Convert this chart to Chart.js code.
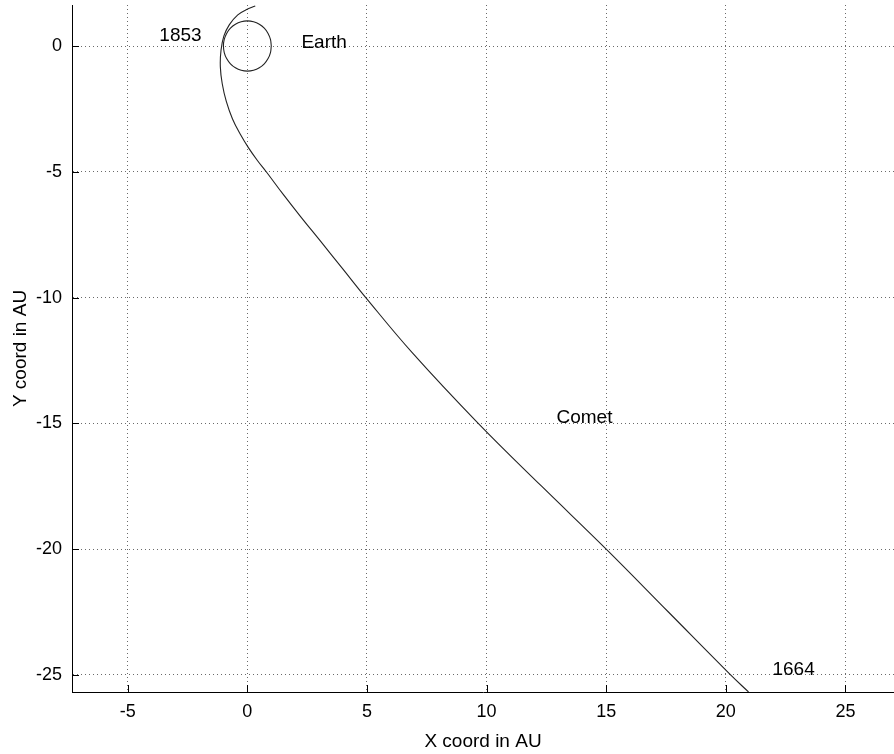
<!DOCTYPE html>
<html>
<head>
<meta charset="utf-8">
<title>Comet orbit</title>
<script src="https://cdn.jsdelivr.net/npm/chart.js@4.4.0/dist/chart.umd.min.js"></script>
<style>
  html, body { margin: 0; padding: 0; background: #fff; }
  canvas { display: block; }
</style>
</head>
<body>
<canvas id="orbit-chart" width="894" height="754"></canvas>
<script>
// ─── Data (AU) ─────────────────────────────────────────────
const cometX = [0.33, -0.05, -0.40, -0.75, -0.98, -1.10, -1.13, -1.05, -0.88, -0.62, -0.30, 0.05, 0.42, 0.79, 1.50, 2.20, 3.05, 3.98, 4.95, 6.90, 9.65, 12.3, 15.0, 17.6, 20.2, 20.95];
const cometY = [1.59, 1.44, 1.24, 0.85, 0.40, -0.16, -0.82, -1.50, -2.20, -2.90, -3.50, -4.05, -4.55, -5.00, -5.90, -6.75, -7.75, -8.85, -10.0, -12.2, -15.0, -17.5, -20.0, -22.5, -25.0, -25.68];

const earthX = [1, 0.966, 0.866, 0.707, 0.5, 0.259, 0, -0.259, -0.5, -0.707, -0.866, -0.966, -1, -0.966, -0.866, -0.707, -0.5, -0.259, 0, 0.259, 0.5, 0.707, 0.866, 0.966, 1];
const earthY = [0, 0.259, 0.5, 0.707, 0.866, 0.966, 1, 0.966, 0.866, 0.707, 0.5, 0.259, 0, -0.259, -0.5, -0.707, -0.866, -0.966, -1, -0.966, -0.866, -0.707, -0.5, -0.259, 0];

const xTicks = [-5, 0, 5, 10, 15, 20, 25];
const yTicks = [-25, -20, -15, -10, -5, 0];
const xRange = [-7.33, 27.03];
const yRange = [-25.68, 1.63];

// text labels: text, left x, baseline y
const labelText = ['1853', 'Earth', 'Comet', '1664'];
const labelX = [-3.68, 2.26, 12.92, 21.95];
const labelY = [0.2, -0.08, -15.0, -25.0];

const FONT = '"Liberation Sans", Arial, Helvetica, sans-serif';

function toPoints(xs, ys) {
    return xs.map((x, i) => ({ x: x, y: ys[i] }));
}

// inward tick marks, like the original plot
const innerTicks = {
    id: 'innerTicks',
    afterDraw(chart) {
        const { ctx, chartArea } = chart;
        const xs = chart.scales.x, ys = chart.scales.y;
        ctx.save();
        ctx.strokeStyle = '#000';
        ctx.lineWidth = 1;
        ctx.setLineDash([]);
        ctx.beginPath();
        xTicks.forEach(v => {
            const px = Math.round(xs.getPixelForValue(v)) + 0.5;
            ctx.moveTo(px, chartArea.bottom);
            ctx.lineTo(px, chartArea.bottom - 7);
        });
        yTicks.forEach(v => {
            const py = Math.round(ys.getPixelForValue(v)) + 0.5;
            ctx.moveTo(chartArea.left, py);
            ctx.lineTo(chartArea.left + 7, py);
        });
        ctx.stroke();
        ctx.restore();
    }
};

const textLabels = {
    id: 'textLabels',
    afterDatasetsDraw(chart) {
        const { ctx } = chart;
        const xs = chart.scales.x, ys = chart.scales.y;
        ctx.save();
        ctx.fillStyle = '#000';
        ctx.font = '19px ' + FONT;
        ctx.textAlign = 'left';
        ctx.textBaseline = 'alphabetic';
        labelText.forEach((t, i) => {
            ctx.fillText(t, xs.getPixelForValue(labelX[i]), ys.getPixelForValue(labelY[i]));
        });
        ctx.restore();
    }
};

const gridStyle = {
    color: '#6a6a6a',
    lineWidth: 1,
    drawTicks: false
};

// in v4 border.dash is what dashes the grid lines
const borderStyle = { display: true, color: '#000', width: 1, dash: [1, 3] };

new Chart(document.getElementById('orbit-chart'), {
    type: 'scatter',
    data: {
        datasets: [
            {
                label: 'Comet',
                data: toPoints(cometX, cometY),
                showLine: true,
                borderColor: '#222',
                borderWidth: 1.1,
                pointRadius: 0,
                tension: 0.4,
                fill: false
            },
            {
                label: 'Earth',
                data: toPoints(earthX, earthY),
                showLine: true,
                borderColor: '#222',
                borderWidth: 1.1,
                pointRadius: 0,
                tension: 0.4,
                fill: false
            }
        ]
    },
    options: {
        responsive: false,
        devicePixelRatio: 1,
        animation: false,
        layout: { padding: { top: 5, right: 0, bottom: 0, left: 0 } },
        plugins: {
            legend: { display: false },
            tooltip: { enabled: false }
        },
        scales: {
            x: {
                type: 'linear',
                min: xRange[0],
                max: xRange[1],
                afterBuildTicks: (scale) => { scale.ticks = xTicks.map(v => ({ value: v })); },
                afterFit: (scale) => {
                    scale.height = 62;
                    scale.paddingLeft = 0;
                    scale.paddingRight = 0;
                },
                ticks: {
                    color: '#000',
                    padding: 9,
                    maxRotation: 0,
                    font: { family: FONT, size: 18 }
                },
                grid: gridStyle,
                border: borderStyle,
                title: {
                    display: true,
                    text: 'X coord in AU',
                    color: '#000',
                    font: { family: FONT, size: 19 },
                    padding: { top: 0, bottom: 1 }
                }
            },
            y: {
                type: 'linear',
                min: yRange[0],
                max: yRange[1],
                afterBuildTicks: (scale) => { scale.ticks = yTicks.map(v => ({ value: v })); },
                afterFit: (scale) => {
                    scale.width = 72;
                    scale.paddingTop = 0;
                    scale.paddingBottom = 0;
                },
                ticks: {
                    color: '#000',
                    padding: 10,
                    font: { family: FONT, size: 18 }
                },
                grid: gridStyle,
                border: borderStyle,
                title: {
                    display: true,
                    text: 'Y coord in AU',
                    color: '#000',
                    font: { family: FONT, size: 19 },
                    padding: { top: 9, bottom: 0 }
                }
            }
        }
    },
    plugins: [innerTicks, textLabels]
});
</script>
</body>
</html>
